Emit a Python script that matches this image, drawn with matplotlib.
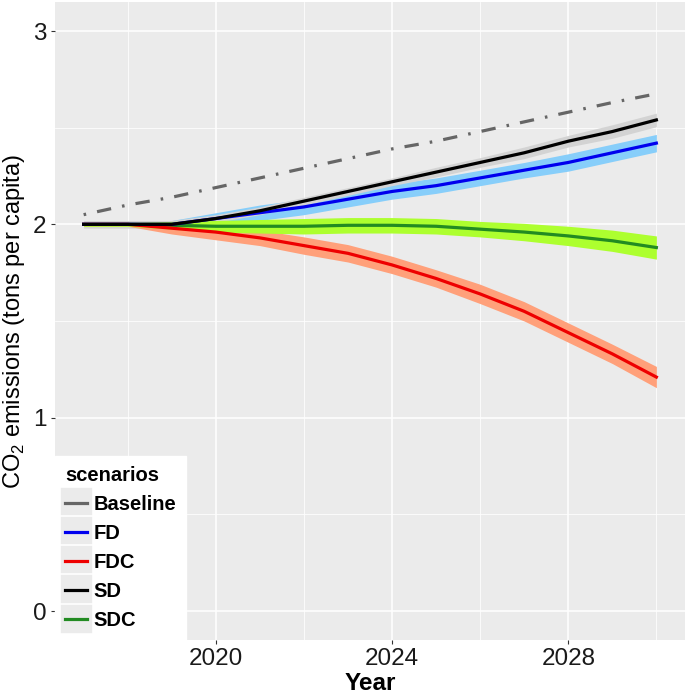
import numpy as np
import matplotlib.pyplot as plt
from matplotlib.legend_handler import HandlerLine2D
from matplotlib.lines import Line2D
from matplotlib.patches import Rectangle

plt.rcParams['font.family'] = ['Liberation Sans', 'DejaVu Sans']
plt.rcParams['mathtext.fontset'] = 'custom'
plt.rcParams['mathtext.rm'] = 'Liberation Sans'

years = np.arange(2017, 2031)

baseline = [2.05, 2.10, 2.14, 2.19, 2.24, 2.29, 2.34, 2.39, 2.43, 2.48, 2.53, 2.58, 2.63, 2.675]

sd = [2.00, 2.00, 2.00, 2.03, 2.07, 2.12, 2.17, 2.22, 2.27, 2.32, 2.37, 2.43, 2.48, 2.54]
sd_err = [0.02, 0.02, 0.02, 0.02, 0.02, 0.02, 0.02, 0.02, 0.025, 0.025, 0.03, 0.03, 0.035, 0.035]

fd = [2.00, 2.00, 2.00, 2.03, 2.06, 2.09, 2.13, 2.17, 2.20, 2.24, 2.28, 2.32, 2.37, 2.42]
fd_err = [0.01, 0.01, 0.02, 0.03, 0.04, 0.04, 0.04, 0.04, 0.04, 0.04, 0.04, 0.045, 0.045, 0.045]

sdc = [2.00, 2.00, 1.995, 1.99, 1.99, 1.99, 1.995, 1.995, 1.99, 1.975, 1.96, 1.94, 1.915, 1.88]
sdc_err = [0.01, 0.01, 0.02, 0.03, 0.035, 0.04, 0.04, 0.04, 0.04, 0.04, 0.045, 0.05, 0.055, 0.06]

fdc = [2.00, 2.00, 1.98, 1.96, 1.93, 1.89, 1.85, 1.79, 1.72, 1.64, 1.55, 1.44, 1.33, 1.21]
fdc_err = [0.01, 0.01, 0.03, 0.04, 0.04, 0.045, 0.045, 0.045, 0.045, 0.05, 0.05, 0.05, 0.05, 0.055]

scenarios = ['Baseline', 'FD', 'FDC', 'SD', 'SDC']
line_colors = ['#666666', '#0000EE', '#EE0000', '#000000', '#228B22']

fig = plt.figure(figsize=(6.85, 6.98), dpi=100)
ax = fig.add_axes([55/685, 58/698, 630/685, 638/698])
ax.set_facecolor('#EBEBEB')

# ribbons
ax.fill_between(years, np.array(fd) - fd_err, np.array(fd) + fd_err, color='#87CEFA', lw=0, zorder=2)
ax.fill_between(years, np.array(sd) - sd_err, np.array(sd) + sd_err, color='#D3D3D3', lw=0, zorder=2)
ax.fill_between(years, np.array(fdc) - fdc_err, np.array(fdc) + fdc_err, color='#FFA07A', lw=0, zorder=2)
ax.fill_between(years, np.array(sdc) - sdc_err, np.array(sdc) + sdc_err, color='#ADFF2F', lw=0, zorder=2)

lw = 2.3
ax.plot(years, baseline, color=line_colors[0], lw=lw, dashes=(0.8, 3.5, 4.5, 3.5),
        dash_capstyle='butt', zorder=3)
ax.plot(years, sdc, color=line_colors[4], lw=lw, zorder=3)
ax.plot(years, fdc, color=line_colors[2], lw=lw, zorder=3)
ax.plot(years, fd, color=line_colors[1], lw=lw, zorder=3)
ax.plot(years, sd, color=line_colors[3], lw=lw, zorder=3)

ax.set_xlim(2016.35, 2030.65)
ax.set_ylim(-0.15, 3.15)
ax.set_xticks([2020, 2024, 2028])
ax.set_xticks([2018, 2022, 2026, 2030], minor=True)
ax.set_yticks([0, 1, 2, 3])
ax.set_yticks([0.5, 1.5, 2.5], minor=True)
ax.grid(True, which='major', color='white', lw=1.1, zorder=1)
ax.grid(True, which='minor', color='white', lw=0.55, zorder=1)
ax.set_axisbelow(True)
for s in ax.spines.values():
    s.set_visible(False)
ax.tick_params(which='major', length=3, width=0.8, color='#333333',
               labelsize=17.5, labelcolor='#1A1A1A', pad=3)
ax.tick_params(which='minor', length=0)

ax.set_xlabel('Year', fontsize=17.5, fontweight='bold', labelpad=1.5)
ax.set_ylabel('CO$_\\mathregular{2}$ emissions (tons per capita)', fontsize=17, labelpad=4)


class KeyHandler(HandlerLine2D):
    def create_artists(self, legend, orig_handle, xdescent, ydescent,
                       width, height, fontsize, trans):
        bg = Rectangle((-xdescent - 4, -ydescent - 6), width + 8, height + 12,
                       facecolor='#EBEBEB', edgecolor='white', lw=1.2, transform=trans)
        arts = super().create_artists(legend, orig_handle, xdescent, ydescent,
                                      width, height, fontsize, trans)
        return [bg] + arts


handles = [Line2D([], [], color=c, lw=2.3) for c in line_colors]
leg = ax.legend(handles, scenarios, title='scenarios', loc='lower left',
                bbox_to_anchor=(0, 0), frameon=True, fancybox=False,
                prop={'size': 14.5, 'weight': 'bold'}, handlelength=1.1,
                handletextpad=0.3, labelspacing=0.5, borderaxespad=0,
                borderpad=0.5, handler_map={Line2D: KeyHandler()})
leg.get_title().set_fontsize(14.5)
leg.get_title().set_fontweight('bold')
leg._legend_box.align = 'left'
leg.get_frame().set_facecolor('white')
leg.get_frame().set_edgecolor('white')
leg.get_frame().set_alpha(1)

fig.savefig('out.png', dpi=100)
